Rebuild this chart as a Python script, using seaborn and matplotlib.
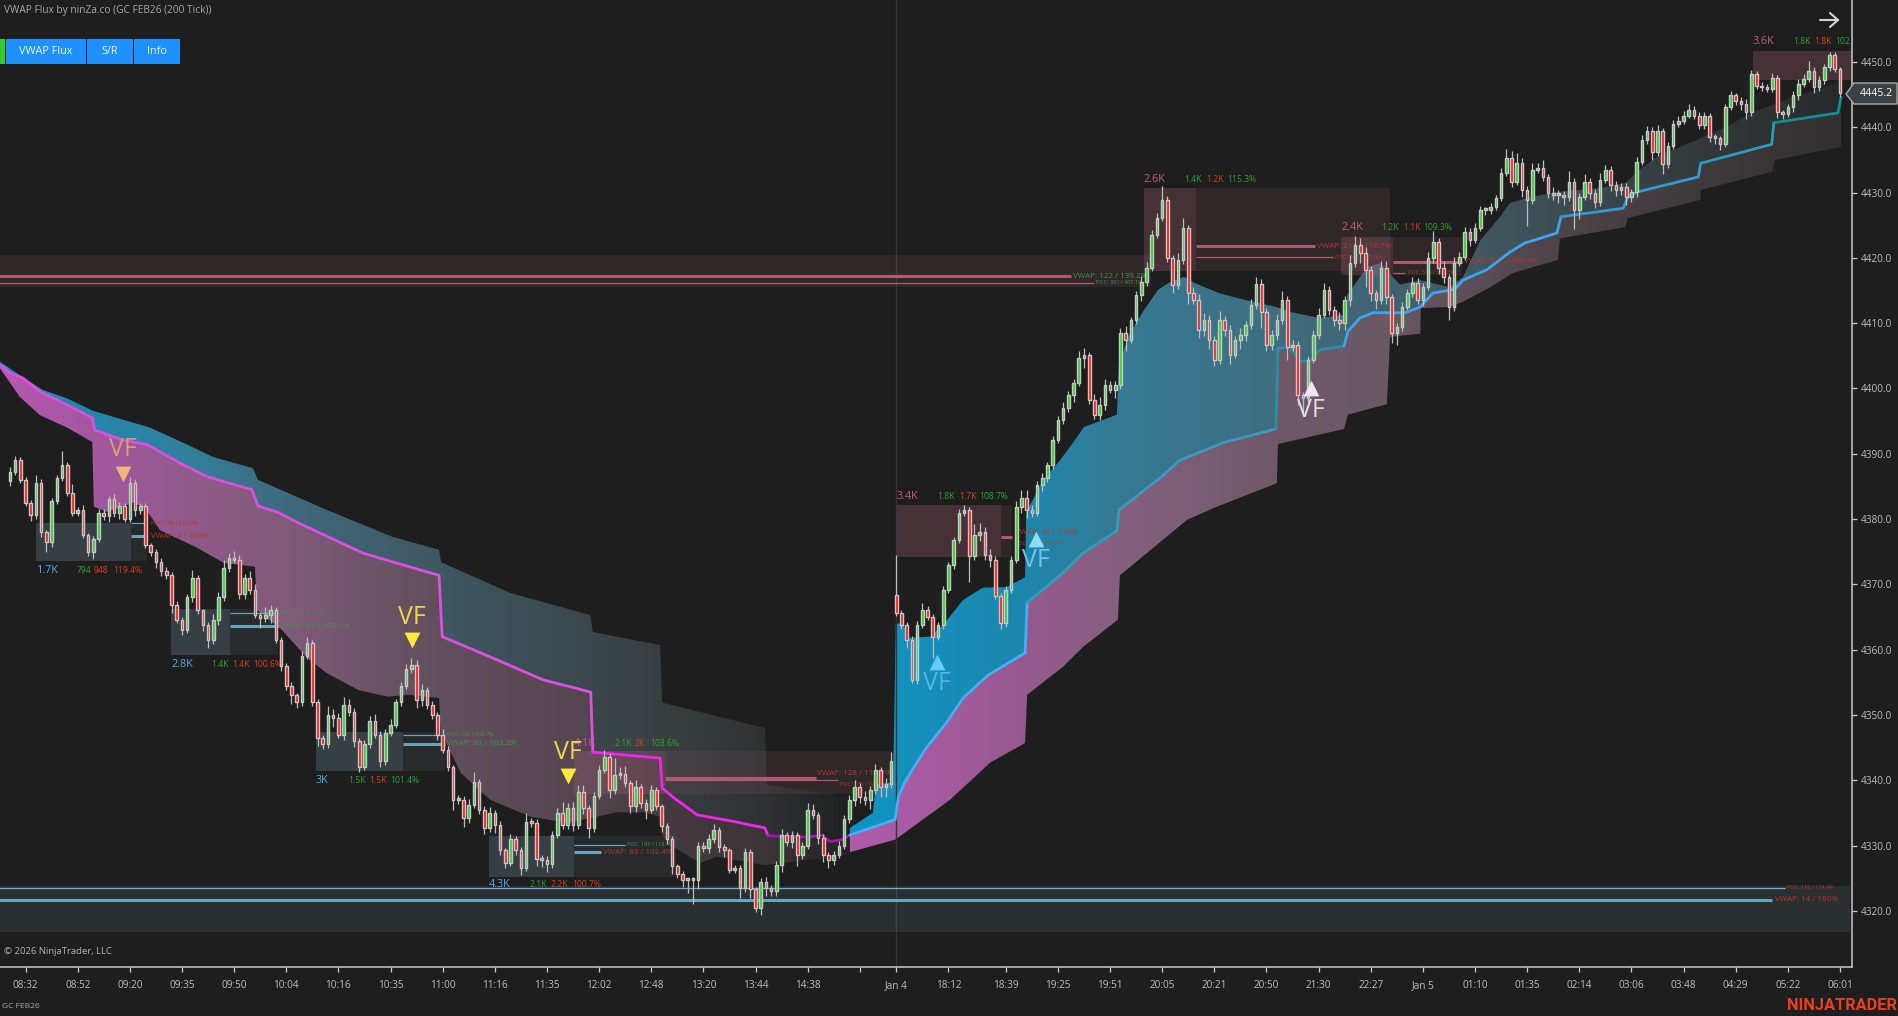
import numpy as np
import matplotlib
matplotlib.use("Agg")
import matplotlib.pyplot as plt
import seaborn as sns
from matplotlib.colors import LinearSegmentedColormap
from matplotlib.lines import Line2D
from matplotlib.patches import Polygon, Rectangle

# ---- candles, one row per ten bars ----
close = [
    4387.2, 4389.0, 4386.0, 4382.5, 4380.6, 4385.6, 4378.0, 4376.5, 4382.8, 4386.3,
    4388.3, 4384.0, 4381.0, 4381.4, 4377.6, 4375.0, 4377.0, 4381.0, 4380.5, 4383.0,
    4381.0, 4382.0, 4380.0, 4385.5, 4381.4, 4382.0, 4376.0, 4375.0, 4373.5, 4372.0,
    4371.5, 4366.9, 4364.6, 4363.0, 4368.0, 4371.0, 4366.0, 4363.8, 4361.5, 4364.6,
    4368.0, 4372.5, 4374.0, 4373.8, 4368.5, 4371.0, 4369.2, 4365.3, 4364.9, 4365.3,
    4366.0, 4361.5, 4357.5, 4354.5, 4353.0, 4352.0, 4359.0, 4361.0, 4352.0, 4346.5,
    4345.5, 4350.0, 4349.5, 4347.0, 4351.5, 4350.5, 4346.0, 4342.0, 4345.5, 4349.0,
    4347.0, 4343.0, 4347.3, 4348.5, 4352.0, 4354.5, 4357.0, 4357.7, 4352.3, 4353.8,
    4351.5, 4350.0, 4347.0, 4344.7, 4342.0, 4337.0, 4337.0, 4334.2, 4336.2, 4339.7,
    4335.5, 4332.7, 4335.0, 4333.2, 4329.3, 4327.4, 4331.0, 4329.3, 4326.6, 4333.6,
    4333.5, 4328.0, 4327.8, 4327.2, 4331.6, 4335.0, 4333.2, 4335.8, 4333.2, 4338.2,
    4335.8, 4332.7, 4337.6, 4341.6, 4343.6, 4338.5, 4340.8, 4341.0, 4339.6, 4336.0,
    4339.0, 4336.5, 4335.5, 4338.5, 4336.0, 4333.0, 4331.0, 4326.8, 4325.7, 4324.7,
    4324.7, 4324.7, 4330.0, 4329.6, 4331.0, 4332.4, 4329.8, 4329.3, 4326.3, 4326.6,
    4323.5, 4329.0, 4323.4, 4320.4, 4324.4, 4323.5, 4323.0, 4327.0, 4331.6, 4330.5,
    4331.6, 4328.6, 4330.0, 4335.5, 4334.7, 4331.2, 4328.6, 4327.8, 4328.6, 4330.0,
    4334.0, 4337.0, 4339.0, 4337.5, 4337.0, 4338.5, 4341.5, 4339.0, 4339.5, 4343.0,
    4365.6, 4363.8, 4361.5, 4355.4, 4363.8, 4366.0, 4365.0, 4362.0, 4363.8, 4369.2,
    4373.0, 4376.8, 4381.0, 4381.4, 4374.4, 4377.6, 4378.0, 4374.5, 4373.8, 4368.2,
    4364.1, 4369.2, 4373.8, 4381.8, 4383.2, 4381.4, 4381.0, 4385.2, 4386.3, 4388.3,
    4392.1, 4395.2, 4397.0, 4399.0, 4400.9, 4404.7, 4405.1, 4398.3, 4396.0, 4397.5,
    4400.5, 4399.8, 4400.5, 4408.5, 4407.4, 4410.5, 4414.3, 4416.3, 4418.5, 4423.5,
    4426.1, 4428.9, 4420.0, 4415.9, 4419.7, 4424.6, 4414.6, 4413.6, 4409.0, 4410.5,
    4407.4, 4404.4, 4410.5, 4409.0, 4405.1, 4407.4, 4408.2, 4409.7, 4412.8, 4416.0,
    4411.7, 4406.7, 4408.2, 4410.5, 4413.6, 4406.4, 4406.7, 4399.0, 4398.6, 4404.4,
    4408.2, 4411.3, 4415.1, 4412.0, 4410.5, 4410.0, 4413.6, 4419.2, 4422.0, 4420.8,
    4418.2, 4414.6, 4413.6, 4418.5, 4414.0, 4408.5, 4409.4, 4412.5, 4414.6, 4416.2,
    4413.6, 4415.6, 4420.0, 4422.4, 4418.5, 4417.0, 4412.5, 4419.2, 4420.2, 4424.0,
    4422.8, 4424.6, 4427.3, 4427.3, 4427.8, 4429.2, 4433.0, 4435.3, 4431.6, 4434.5,
    4430.4, 4428.9, 4433.5, 4433.8, 4432.4, 4430.0, 4429.6, 4429.6, 4429.3, 4431.6,
    4427.3, 4429.3, 4431.6, 4430.0, 4428.6, 4431.9, 4433.4, 4431.1, 4430.4, 4430.9,
    4429.3, 4430.1, 4434.7, 4438.0, 4439.5, 4436.2, 4439.5, 4434.4, 4437.2, 4440.5,
    4441.0, 4441.8, 4442.6, 4441.8, 4440.3, 4441.8, 4438.5, 4438.3, 4437.5, 4443.1,
    4444.9, 4444.1, 4443.6, 4442.3, 4448.2, 4446.4, 4446.1, 4445.9, 4447.6, 4442.3,
    4442.1, 4443.1, 4444.9, 4446.7, 4447.4, 4448.7, 4446.2, 4447.2, 4449.2, 4451.0,
    4449.0, 4445.2,
]
first_open = 4385.8
session_bar = 170
session_open = 4368.4

# wick lengths above and below the body
wick_up = [
    .8, .6, .5, .5, .4, 1.2, .6, .4, .5, .5,
    2.1, .5, 1.3, .4, .8, .3, .4, .5, .5, .6,
    .8, .6, .4, 1.0, .6, .5, .5, .4, .4, .6,
    .7, .4, .5, .4, .6, 1.2, .5, .3, .5, .8,
    .9, 1.2, .8, 1.1, .7, .6, 1.0, .8, .5, 1.2,
    .9, .5, .4, .4, .5, .4, .8, .9, .5, .4,
    .5, 1.4, .9, .8, 1.2, 1.0, .6, .4, .7, .8,
    1.2, .5, .6, .9, .5, .6, .8, 1.0, .7, .9,
    .5, .7, .5, .9, .5, .4, .8, .6, 1.0, 1.6,
    .5, .6, .9, .5, .5, .4, .7, .5, .5, 1.4,
    .6, .5, .5, .6, .6, .8, 1.7, .7, .9, 1.0,
    1.0, .4, .6, .7, 1.0, .5, 2.6, 1.0, 1.2, .5,
    1.0, .5, .6, .7, .5, .4, .5, .4, .4, .4,
    .4, .5, .6, .6, .7, .9, .5, .5, .4, .4,
    .4, .7, .4, .3, .6, .8, .5, .7, .9, .5,
    .6, .5, .5, 1.0, .8, .5, .5, .4, .5, .7,
    .7, .8, 1.1, .6, .8, .6, 1.0, .6, .8, 1.3,
    6.1, .4, .5, .6, .6, 1.1, .7, .5, .5, .5,
    .5, .5, .6, .8, .5, 1.6, 1.4, .8, .9, .5,
    .5, .6, .5, .9, 1.3, 1.2, .7, .6, .7, .5,
    .7, .6, .9, .6, .6, 1.0, 1.1, .5, .9, 1.2,
    1.0, .6, .7, .8, 1.0, .5, .6, 1.0, .9, .7,
    .8, 2.1, .6, .5, 1.0, 1.5, .5, 1.0, .8, 1.0,
    .8, .7, 1.4, .6, .8, .6, 1.1, .6, .9, 1.0,
    .7, .6, .7, .9, 1.4, .5, .8, .5, .5, .6,
    .8, 1.1, 1.0, .6, .7, 1.2, .6, 1.2, 1.4, 1.0,
    .8, .6, .5, 1.0, 1.1, .5, .6, .8, .7, .9,
    .7, .6, .9, 1.7, .6, 1.0, .5, .9, .7, .8,
    .6, .8, .7, .5, .6, .5, .8, 1.4, 1.0, 1.6,
    .8, .6, 1.0, .7, 1.2, .5, .8, .8, .7, 1.7,
    .6, .7, 1.3, .6, .5, 1.1, .8, .7, .7, .6,
    .5, .5, .8, .9, .7, .5, .8, .4, .5, .6,
    .7, .7, 1.0, .6, .5, .6, .4, .5, .4, .5,
    .6, .4, .5, .7, .6, .5, .6, .5, .7, .4,
    .4, .5, .6, .7, .8, 1.5, .6, .6, .5, .6,
    .5, .3,
]
wick_dn = [
    .8, .5, .4, .5, .9, .6, .7, 1.6, .7, .5,
    .5, .4, .6, .5, .5, .6, 1.1, .5, .6, 1.0,
    .7, 1.0, .5, .4, .9, .6, .5, .7, 1.0, .7,
    .7, 1.3, .5, .8, .5, .7, .6, 1.0, 1.2, .6,
    .8, .5, .6, .5, .8, .7, .6, .5, 1.6, .6,
    1.2, .5, .8, .6, 1.3, .9, .7, .5, .7, 1.3,
    .7, .5, 1.3, .6, .8, .6, .9, .8, .5, .6,
    .6, 1.0, .6, .5, .5, .6, .5, .5, 1.2, .9,
    .6, .6, .8, .5, .6, 1.5, .6, 1.4, .7, .5,
    .7, 1.0, .6, 1.3, .8, .9, .6, .8, 1.1, .5,
    .6, 1.2, 1.1, 1.2, .6, .5, .7, .6, .9, .7,
    1.0, 1.5, .6, .5, .5, 1.2, .6, .6, .7, 1.0,
    .8, .7, 1.5, .5, .6, .9, .7, 1.2, .7, 1.0,
    2.0, 3.6, 1.4, .6, .7, .6, .8, 1.0, .5, .5,
    1.6, .6, 1.4, .5, 1.0, 1.2, .8, .7, 1.0, .6,
    .8, 1.7, .6, .5, .7, .9, 1.1, 1.2, .8, .5,
    .5, .6, 1.0, 1.0, .8, 1.4, .6, 1.5, 1.5, .7,
    .5, .6, 1.2, .5, .6, .5, .5, 3.2, .5, .6,
    .5, .6, .5, .5, 4.0, .6, 1.0, .7, 1.1, .5,
    1.0, .6, .5, .5, .8, 1.2, .7, .5, .9, .6,
    .6, .5, .7, .6, 1.0, .5, 1.6, .7, .7, .9,
    .8, .5, 1.2, .6, 1.6, .5, .6, .9, .6, .5,
    .5, .5, .6, 1.2, .6, .6, 1.6, .7, 1.2, 1.0,
    1.4, 1.0, .6, .9, 1.4, .5, 1.4, .9, .6, .6,
    2.4, 1.0, .8, .7, .6, 2.0, .7, 1.5, 2.6, .6,
    .5, .6, .5, .8, .9, 1.0, 1.0, 1.0, .6, 1.6,
    2.6, 1.2, 1.5, .7, 1.0, 1.6, 1.8, .6, .5, .6,
    .6, 1.0, .5, .8, .9, .8, 2.0, .6, .5, .5,
    1.0, .5, .5, .7, .5, .5, .5, .5, .7, .5,
    1.0, 4.0, .7, .5, .6, .9, .8, 1.2, 1.2, .6,
    2.8, 1.4, .5, 1.0, 1.0, .7, .5, .9, .9, .7,
    1.2, .7, .7, .5, .5, 1.2, .6, 1.5, .7, .5,
    .5, .5, .4, .5, .6, .5, .7, .9, 1.0, .5,
    .5, .7, .9, 1.0, .5, .5, .6, .5, .5, .9,
    .8, .5, .8, .7, .5, .5, 1.0, .6, .5, .5,
    .6, .5,
]

# ---- time axis ----
tick_bars = [3, 13, 23, 33, 43, 53, 63, 73, 83, 93, 103, 113, 123, 133, 143, 153, 163,
             170, 180, 191, 201, 211, 221, 231, 241, 251, 261, 271, 281, 291, 301, 311,
             321, 331, 341, 351]
tick_labels = ["08:32", "08:52", "09:20", "09:35", "09:50", "10:04", "10:16", "10:35", "11:00",
               "11:16", "11:35", "12:02", "12:48", "13:20", "13:44", "14:38", "", "Jan 4",
               "18:12", "18:39", "19:25", "19:51", "20:05", "20:21", "20:50", "21:30", "22:27",
               "Jan 5", "01:10", "01:35", "02:14", "03:06", "03:48", "04:29", "05:22", "06:01"]
price_ticks = [4320, 4330, 4340, 4350, 4360, 4370, 4380, 4390, 4400, 4410, 4420, 4430, 4440, 4450]

# ---- VWAP line and bands, first session ----
vwap1_bar = [-1.9, 0, 2.5, 5.8, 10.2, 15.8, 16.3, 21.7, 26.3, 32.6, 37.8, 46.4, 47.6, 51.2, 55.6, 67.7,
             78.7, 82.3, 82.9, 92.1, 102.2, 111.4, 111.8, 120.3, 124.7, 125.1, 127.2, 131.8, 138.1,
             144.8, 145.4, 152.9, 155.8, 157.3, 159.6, 161.1]
vwap1_val = [4403.6, 4402.4, 4401.6, 4399.5, 4397.8, 4395.5, 4393.6, 4392.1, 4391.4, 4388.6, 4386.5, 4384.5,
             4382.0, 4381.1, 4379.3, 4374.8, 4372.2, 4371.4, 4362.0, 4358.9, 4355.4, 4353.5, 4344.3, 4343.7,
             4343.4, 4338.8, 4337.4, 4334.7, 4333.8, 4332.7, 4331.5, 4331.3, 4331.6, 4330.6, 4330.9, 4331.6]
upper1_bar = [-1.9, 2.9, 6.3, 10.9, 15.9, 20.5, 26.9, 34, 39, 46.6, 47.6, 60.8, 73.3, 82.3, 82.7, 95.9,
              111.3, 111.8, 124.7, 125.1, 144.8, 145.2, 156.7, 161.1]
upper1_val = [4404.1, 4401.5, 4399.8, 4398.5, 4396.6, 4395.5, 4394.0, 4391.4, 4389.5, 4387.8, 4386.0, 4381.4,
              4377.3, 4375.3, 4373.4, 4368.7, 4365.3, 4362.7, 4360.7, 4351.9, 4348.0, 4339.3, 4338.0, 4337.0]
lower1_bar = [-1.9, 1.9, 5.8, 11, 15.8, 16.1, 18.6, 23.6, 25.9, 28.8, 35.7, 41, 47, 47.4, 52.2, 56.8, 60.8,
              66.9, 72.5, 76.4, 82.3, 82.7, 86.5, 92.1, 100, 106.8, 111.3, 116.4, 121.4, 124.7, 125.1,
              127.2, 132.4, 135.6, 144.8, 152.9, 161.1]
lower1_val = [4403.1, 4398.7, 4395.9, 4394.0, 4391.8, 4381.9, 4381.1, 4382.5, 4381.7, 4378.3, 4375.7, 4373.3,
              4372.7, 4366.1, 4363.0, 4358.9, 4356.4, 4353.8, 4352.8, 4353.1, 4352.6, 4347.3, 4341.1, 4337.0,
              4334.4, 4333.5, 4334.2, 4335.1, 4335.1, 4334.4, 4331.6, 4329.8, 4327.3, 4328.3, 4327.0, 4327.8,
              4328.6]

# ---- VWAP line and bands, second session ----
vwap2_bar = [161.1, 169.8, 170.4, 171.7, 175.5, 179.7, 182.8, 187.6, 194.7, 195.1, 202, 205.8, 212.3, 212.7,
             220.9, 224.4, 232.7, 242.8, 243.2, 245.7, 247.4, 249.7, 251.1, 255.9, 256.6, 258.9, 261.4, 267.6,
             270.5, 272.9, 277.1, 278.7, 283.3, 287.7, 290.6, 296.7, 297.5, 309.4, 310.3, 312.1, 323.8, 324.3,
             337.9, 338.3, 350.6, 351.2]
vwap2_val = [4331.6, 4334.0, 4337.5, 4339.8, 4344.7, 4348.9, 4352.6, 4356.1, 4359.5, 4367.2, 4371.8, 4374.8,
             4378.2, 4381.4, 4386.5, 4389.0, 4391.7, 4393.8, 4406.2, 4406.2, 4404.1, 4404.4, 4405.9, 4406.5,
             4408.7, 4410.8, 4411.6, 4411.6, 4412.5, 4414.6, 4415.2, 4416.6, 4418.2, 4420.9, 4422.3, 4423.8,
             4426.3, 4427.6, 4429.3, 4430.1, 4432.4, 4434.5, 4437.4, 4440.7, 4442.2, 4444.6]
upper2_bar = [161.1, 165.5, 166.1, 169.4, 169.9, 171.3, 172.3, 176.5, 179, 182.8, 186.6, 191.2, 194.7, 194.9,
              198.2, 201.4, 203.9, 206, 208.7, 212.3, 212.7, 214.8, 217.5, 220.2, 222.3, 225.2, 227.1, 231.9,
              236.7, 242.8, 245.7, 251.1, 255.9, 256.5, 260.3, 262.8, 266.6, 270.5, 276.2, 278.7, 282, 285.8,
              287.7, 291.5, 296.9, 305, 309.8, 312.6, 315.9, 323.6, 329.3, 333.8, 338, 343.3, 351.2]
upper2_val = [4332.7, 4335.0, 4339.3, 4339.7, 4364.0, 4364.0, 4361.8, 4362.0, 4363.8, 4367.6, 4369.5, 4369.6,
              4371.1, 4381.0, 4386.0, 4389.0, 4391.7, 4394.1, 4394.9, 4396.0, 4403.9, 4408.5, 4412.0, 4415.1,
              4416.2, 4417.1, 4416.2, 4414.6, 4413.6, 4412.5, 4411.7, 4410.8, 4411.3, 4414.3, 4418.6, 4419.2,
              4415.9, 4416.6, 4415.5, 4417.1, 4422.7, 4426.3, 4428.4, 4429.3, 4430.1, 4430.7, 4431.5, 4433.5,
              4435.5, 4438.1, 4440.1, 4442.2, 4443.4, 4445.0, 4447.0]
lower2_bar = [161.1, 169.8, 180.3, 188, 194.7, 195.1, 202, 205.8, 212.5, 212.9, 221.1, 225.8, 231.5, 243, 243.2,
              255.9, 256.6, 264.1, 264.7, 270.5, 270.6, 276.2, 278.7, 283.9, 288.3, 296.9, 297.3, 309.8, 310.3,
              324.2, 324.3, 338, 338.5, 351.2]
lower2_val = [4329.0, 4330.9, 4337.0, 4342.7, 4345.7, 4353.1, 4357.4, 4360.4, 4364.6, 4371.4, 4376.8, 4379.9,
              4381.9, 4385.5, 4391.5, 4393.8, 4396.0, 4397.6, 4407.9, 4408.4, 4412.3, 4412.5, 4413.3, 4415.5,
              4417.7, 4419.7, 4423.0, 4424.7, 4426.1, 4428.9, 4430.4, 4433.2, 4435.0, 4437.0]

# ---- volume zones: left, middle, right bar, top, bottom price, VWAP and POC price ----
blue_zones = [
    (5, 23.2, 26.3, 4379.4, 4373.6, 4377.4, 4379.4),
    (30.9, 42.2, 51.4, 4366.2, 4359.2, 4363.6, 4365.6),
    (58.7, 75.4, 83.4, 4347.4, 4341.4, 4345.6, 4347.0),
    (91.9, 108.2, 127.8, 4331.5, 4325.2, 4329.0, 4330.1),
]
red_zones = [
    (108.2, 125.6, 169.8, 4344.5, 4337.9, 4340.3, 4340.05),
    (170.1, 190.0, 192.2, 4382.2, 4374.2, 4377.3, 4377.3),
    (217.5, 227.5, 264.7, 4430.7, 4418.0, 4421.75, 4420.1),
    (255.3, 265.3, 278.5, 4423.2, 4417.4, 4419.4, 4417.7),
]
# end of the thick VWAP and thin POC line per zone
blue_vwap_end = [26.1, 51.4, 83.4, 113.4]
blue_poc_end = [26.3, 51.4, 83.4, 118.0]
red_vwap_end = [154.6, 192.2, 250.3, 278.5]
red_poc_end = [158.9, 190.0, 253.8, 267.5]

# text, bar, price, colour group
vwap_notes = [
    ("VWAP: 4 / 300%", 27.1, 4377.4, "r"), ("VWAP: 85 / 103.1%", 51.8, 4363.6, "g"),
    ("VWAP: 63 / 103.2%", 83.8, 4345.6, "g"), ("VWAP: 83 / 102.4%", 113.7, 4329.0, "r"),
    ("VWAP: 128 / 113.6%", 154.8, 4341.1, "r"), ("VWAP: 42 / 110%", 192.8, 4378.0, "r"),
    ("VWAP: 211 / 116.7%", 250.7, 4421.75, "r"), ("VWAP: 457 / 108.7%", 278.9, 4419.4, "r"),
    ("VWAP: 122 / 139.2%", 203.9, 4417.2, "g"), ("VWAP: 14 / 180%", 338.6, 4321.7, "r"),
]
poc_notes = [
    ("POC: 106 / 117.4%", 27.1, 4379.4, "r"), ("POC: 93 / 232.1%", 51.8, 4365.6, "g"),
    ("POC: 130 / 109.7%", 83.8, 4347.0, "g"), ("POC: 147 / 118.4%", 118.4, 4330.1, "g"),
    ("POC: 179 / 100.6%", 159.2, 4339.3, "r"), ("POC: 132 / 357.1%", 192.8, 4376.3, "r"),
    ("POC: 344 / 110.3%", 254.1, 4420.1, "r"), ("POC: 515 / 110.3%", 268.1, 4417.7, "r"),
    ("POC: 391 / 407.1%", 208.3, 4416.2, "g"), ("POC: 118 / 174.4%", 340.8, 4323.5, "r"),
]
volume_notes = [
    ("1.7K", 5.2, 4372.2, "b"), ("794", 12.7, 4372.2, "g"), ("948", 16.1, 4372.2, "r"), ("119.4%", 19.8, 4372.2, "r"),
    ("2.8K", 30.9, 4357.8, "b"), ("1.4K", 38.6, 4357.8, "g"), ("1.4K", 42.6, 4357.8, "r"), ("100.6%", 46.6, 4357.8, "r"),
    ("3K", 58.7, 4340.0, "b"), ("1.5K", 64.8, 4340.0, "g"), ("1.5K", 68.9, 4340.0, "r"), ("101.4%", 72.9, 4340.0, "g"),
    ("4.3K", 91.9, 4324.0, "b"), ("2.1K", 99.6, 4324.0, "g"), ("2.2K", 103.6, 4324.0, "r"), ("100.7%", 107.8, 4324.0, "r"),
    ("4.1K", 108.2, 4345.7, "p"), ("2.1K", 115.9, 4345.7, "g"), ("2K", 119.9, 4345.7, "r"), ("103.6%", 122.8, 4345.7, "g"),
    ("3.4K", 170.1, 4383.5, "p"), ("1.8K", 177.8, 4383.5, "g"), ("1.7K", 182.0, 4383.5, "r"), ("108.7%", 185.9, 4383.5, "g"),
    ("2.6K", 217.5, 4432.0, "p"), ("1.4K", 225.2, 4432.0, "g"), ("1.2K", 229.4, 4432.0, "r"), ("115.3%", 233.4, 4432.0, "g"),
    ("2.4K", 255.3, 4424.6, "p"), ("1.2K", 263.0, 4424.6, "g"), ("1.1K", 267.2, 4424.6, "r"), ("109.3%", 271.0, 4424.6, "g"),
    ("3.6K", 334.3, 4453.2, "p"), ("1.8K", 342.0, 4453.2, "g"), ("1.8K", 346.0, 4453.2, "r"), ("102.", 350.0, 4453.2, "g"),
]

# bar, triangle price, label price, direction, colours
vf_bars = [21.6, 77.1, 107.0, 177.8, 196.8, 249.5]
vf_marker_price = [4386.9, 4361.5, 4340.7, 4358.1, 4377.0, 4400.1]
vf_label_price = [4390.6, 4365.0, 4344.3, 4354.8, 4373.7, 4396.6]
vf_marker = ["v", "v", "v", "^", "^", "^"]
vf_marker_color = ["#eeb67c", "#ffe93a", "#ffe93a", "#62ccff", "#8fdcff", "#f3e3f3"]
vf_label_color = ["#d9a06a", "#ecd84e", "#ecd84e", "#55b5e3", "#70c4ea", "#e4dbe8"]

BG = "#1e1e1e"
text_colors = {"r": "#e03d1c", "g": "#2fa32f", "b": "#5aa9e6", "p": "#c05f80"}
note_colors = {"r": "#b23a2a", "g": "#42964a"}

sns.set_theme(style="dark", rc={"axes.facecolor": BG, "figure.facecolor": BG})
plt.rcParams["font.family"] = ["Open Sans", "DejaVu Sans"]

fig = plt.figure(figsize=(18.98, 10.16), dpi=100)
ax = fig.add_axes([0, 1 - 967 / 1016, 1852 / 1898, 967 / 1016])


def fx(px):
    return px / 1898


def fy(px):
    return 1 - px / 1016


def gradient_fill(top_bar, top_val, bot_bar, bot_val, stops_bar, stops_col, z=1):
    # gradient image cut out by the band outline
    verts = list(zip(top_bar, top_val)) + list(zip(bot_bar[::-1], bot_val[::-1]))
    poly = Polygon(verts, closed=True, transform=ax.transData, fc="none", ec="none")
    ax.add_patch(poly)
    lo, hi = stops_bar[0], stops_bar[-1]
    pos = [(s - lo) / (hi - lo) for s in stops_bar]
    cmap = LinearSegmentedColormap.from_list("band", list(zip(pos, stops_col)))
    grad = np.linspace(0, 1, 600).reshape(1, -1)
    im = ax.imshow(grad, cmap=cmap, aspect="auto", extent=[lo, hi, 4300, 4470], zorder=z, interpolation="bilinear")
    im.set_clip_path(poly)


gradient_fill(upper1_bar, upper1_val, vwap1_bar, vwap1_val,
              [-2, 32, 55, 78, 111, 125, 145, 162],
              ["#1690b8", "#31819f", "#40687a", "#3f5a66", "#3b474c", "#393f41", "#2f3234", "#1f1f1f"])
gradient_fill(vwap1_bar, vwap1_val, lower1_bar, lower1_val,
              [-2, 18, 37, 55, 78, 111, 125, 145, 162],
              ["#b557b0", "#a1589e", "#8e5b87", "#7e5a78", "#64505f", "#544650", "#453a40", "#3c3538", "#232122"])
gradient_fill(upper2_bar, upper2_val, vwap2_bar, vwap2_val,
              [161, 195, 212, 243, 276, 297, 324, 352],
              ["#0f95c4", "#1e86ac", "#357a95", "#3f6e80", "#425c67", "#3d4d53", "#33393b", "#272a2b"])
gradient_fill(vwap2_bar, vwap2_val, lower2_bar, lower2_val,
              [161, 195, 213, 243, 265, 297, 324, 352],
              ["#b05cab", "#96598f", "#84607f", "#6f5968", "#6a5865", "#4e434a", "#403a3d", "#333031"])

ax.axvline(170, color="#333638", lw=1, zorder=1.2)

# long zones across the chart
ax.add_patch(Rectangle((-2, 4316.8), 355, 7.0, fc="#7fa5b8", alpha=0.13, ec="none", zorder=2))
ax.add_patch(Rectangle((-2, 4415.5), 220.8, 4.9, fc="#a06070", alpha=0.14, ec="none", zorder=2))
ax.add_patch(Rectangle((334.3, 4447.2), 19, 4.5, fc="#a06070", alpha=0.3, ec="none", zorder=2))
ax.hlines(4323.5, -2, 340.5, color="#6fb0cc", lw=0.9, zorder=2.2)
ax.hlines(4321.7, -2, 338, color="#6aa5bd", lw=2.2, zorder=2.2)
ax.hlines(4417.2, -2, 203.5, color="#ad5a72", lw=2.2, zorder=2.2)
ax.hlines(4416.2, -2, 207.9, color="#ad5a72", lw=0.9, zorder=2.2)

for zones, vend, pend, col, lc in [(blue_zones, blue_vwap_end, blue_poc_end, "#7fa5b8", "#6aa5bd"),
                                   (red_zones, red_vwap_end, red_poc_end, "#a06070", "#ad5a72")]:
    heavy = 0.25 if col == "#7fa5b8" else 0.3
    light = 0.1 if col == "#7fa5b8" else 0.14
    for (x0, xm, x1, top, bot, v, p), ve, pe in zip(zones, vend, pend):
        ax.add_patch(Rectangle((x0, bot), xm - x0, top - bot, fc=col, alpha=heavy, ec="none", zorder=2))
        ax.add_patch(Rectangle((xm, bot), x1 - xm, top - bot, fc=col, alpha=light, ec="none", zorder=2))
        ax.hlines(v, xm, ve, color=lc, lw=2.2, zorder=2.2)
        if pe > xm and p != v:
            ax.hlines(p, xm, pe, color=lc, lw=0.9, zorder=2.2)

for txt, b, p, c in vwap_notes:
    ax.text(b, p, txt, color=note_colors[c], fontsize=5.8, va="center", zorder=2.5)
for txt, b, p, c in poc_notes:
    ax.text(b, p, txt, color=note_colors[c], fontsize=4.0, va="center", zorder=2.5)
for txt, b, p, c in volume_notes:
    big = c in "bp"
    ax.text(b, p, txt, color=text_colors[c], fontsize=7.8 if big else 6.2, va="center", zorder=2.5,
            clip_on=True)

# VWAP line, colour changes along the way
line_parts = [
    (vwap1_bar, vwap1_val, 0, 23, "#dc50e0"),
    (vwap1_bar, vwap1_val, 22, 31, "#f424f0"),
    (vwap1_bar, vwap1_val, 30, 36, "#a216a8"),
    (vwap2_bar, vwap2_val, 0, 10, "#45aef5"),
    (vwap2_bar, vwap2_val, 9, 14, "#2f9db8"),
    (vwap2_bar, vwap2_val, 13, 18, "#3a9ac0"),
    (vwap2_bar, vwap2_val, 17, 24, "#2a8fa5"),
    (vwap2_bar, vwap2_val, 23, 37, "#3ea4f0"),
    (vwap2_bar, vwap2_val, 36, 42, "#2f9bd0"),
    (vwap2_bar, vwap2_val, 41, 44, "#2a9cbc"),
    (vwap2_bar, vwap2_val, 43, 46, "#0f8f92"),
]
for xs, ys, a, b, col in line_parts:
    sns.lineplot(x=xs[a:b], y=ys[a:b], color=col, linewidth=2.0, sort=False, estimator=None,
                 ax=ax, zorder=3, legend=False)

# candles
closes = np.array(close)
opens = np.r_[first_open, closes[:-1]]
opens[session_bar] = session_open
bars = np.arange(len(closes))
body_top = np.maximum(opens, closes)
body_bot = np.minimum(opens, closes)
ax.vlines(bars, body_bot - np.array(wick_dn), body_top + np.array(wick_up), color="#bdbdbd", lw=0.9, zorder=4)
fills = ["#30d030" if c >= o else "#ff1414" for o, c in zip(opens, closes)]
ax.bar(bars, np.maximum(body_top - body_bot, 0.3), bottom=body_bot, width=0.5, color=fills,
       edgecolor="#c8c8c8", linewidth=1.0, zorder=5)

# VF signals
for b, mp, lp, m, mc, lc in zip(vf_bars, vf_marker_price, vf_label_price, vf_marker, vf_marker_color, vf_label_color):
    ax.scatter([b], [mp], marker=m, s=130, color=mc, linewidths=0, zorder=6)
    ax.text(b, lp, "VF", color=lc, fontsize=18, ha="center", va="center", zorder=6)

ax.set_xlim(-1.9, 353.3)
ax.set_ylim(4311.4, 4459.5)
ax.set_xticks(tick_bars)
ax.set_xticklabels(tick_labels)
ax.set_yticks(price_ticks)
ax.set_yticklabels([f"{p:.1f}" for p in price_ticks])
ax.yaxis.tick_right()
ax.grid(False)
ax.tick_params(axis="both", colors="#b8bec6", labelsize=7.2, length=3.6, width=0.9, color="#c8c8c8",
               bottom=True, right=True)
ax.tick_params(axis="x", pad=6)
ax.tick_params(axis="y", pad=3)
for side in ["top", "left"]:
    ax.spines[side].set_visible(False)
for side in ["right", "bottom"]:
    ax.spines[side].set_color("#c8c8c8")
    ax.spines[side].set_linewidth(1.1)

# chart chrome
fig.text(fx(4), fy(11), "VWAP Flux by ninZa.co (GC FEB26 (200 Tick))", color="#a9a9a9", fontsize=7.3, va="center")
fig.add_artist(Rectangle((fx(0), fy(64)), fx(5), 25 / 1016, fc="#32cd32", ec="none", transform=fig.transFigure))
for x0, x1, lab in [(6, 86, "VWAP Flux"), (87, 133, "S/R"), (134, 180, "Info")]:
    fig.add_artist(Rectangle((fx(x0), fy(64)), fx(x1 - x0), 25 / 1016, fc="#1e90ff", ec="none", transform=fig.transFigure))
    fig.text(fx((x0 + x1) / 2), fy(51.5), lab, color="#f0f6ff", fontsize=7.8, ha="center", va="center")

fig.text(fx(4), fy(952), "© 2026 NinjaTrader, LLC", color="#b4b4b4", fontsize=6.8, va="center")
fig.text(fx(2), fy(1006), "GC FEB26", color="#a9a9a9", fontsize=6, va="center")
fig.text(fx(1897), fy(1005), "NINJATRADER", color="#e8401f", fontsize=11.8, fontweight="bold", ha="right",
         va="center", family=["Roboto", "DejaVu Sans"])

for xs, ys in [([1820, 1838], [20, 20]), ([1830, 1838, 1830], [13, 20, 27])]:
    fig.add_artist(Line2D([fx(v) for v in xs], [fy(v) for v in ys], color="#d4d4d4", lw=1.5,
                          transform=fig.transFigure))

tag = [(1846, 94), (1854, 83), (1897, 83), (1897, 104), (1854, 104)]
fig.add_artist(Polygon([(fx(a), fy(b)) for a, b in tag], closed=True, fc="#3a3f44", ec="#a8a8a8", lw=1,
                       transform=fig.transFigure))
fig.text(fx(1876), fy(93.5), "4445.2", color="#ffffff", fontsize=7.6, ha="center", va="center")

fig.savefig("out.png", dpi=100, facecolor=BG)
